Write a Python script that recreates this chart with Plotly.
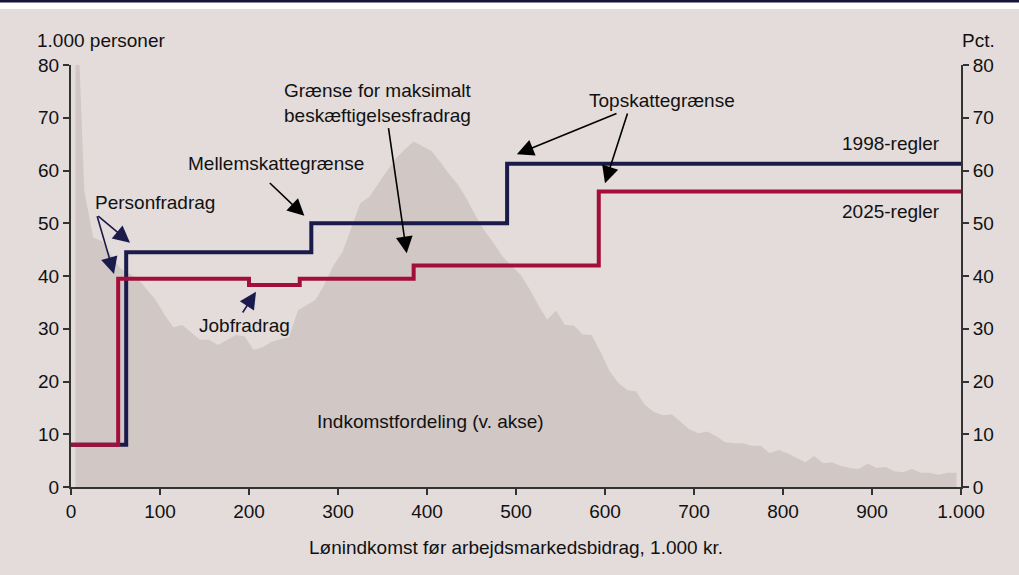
import plotly.graph_objects as go

# Income distribution (thousand persons) by wage income, 10k-kr. bins
income_bins = [5, 15, 25, 35, 45, 55, 65, 75, 85, 95,
               105, 115, 125, 135, 145, 155, 165, 175, 185, 195,
               205, 215, 225, 235, 245, 255, 265, 275, 285, 295,
               305, 315, 325, 335, 345, 355, 365, 375, 385, 395,
               405, 415, 425, 435, 445, 455, 465, 475, 485, 495,
               505, 515, 525, 535, 545, 555, 565, 575, 585, 595,
               605, 615, 625, 635, 645, 655, 665, 675, 685, 695,
               705, 715, 725, 735, 745, 755, 765, 775, 785, 795,
               805, 815, 825, 835, 845, 855, 865, 875, 885, 895,
               905, 915, 925, 935, 945, 955, 965, 975, 985, 995]
persons = [100, 56.0, 47.3, 46.6, 44.0, 41.5, 40.5, 39.5, 37.5, 35.5,
           32.7, 30.3, 30.7, 29.3, 27.9, 27.9, 26.9, 27.8, 28.8, 28.6,
           26.0, 26.5, 27.5, 28.0, 28.4, 33.5, 34.5, 35.5, 38.5, 42.0,
           44.5, 49.0, 53.8, 55.0, 57.5, 60.0, 62.3, 64.0, 65.5, 64.6,
           63.7, 61.6, 59.3, 57.3, 54.5, 51.3, 48.5, 46.2, 43.7, 41.9,
           40.3, 37.6, 34.5, 31.7, 33.4, 30.7, 30.6, 28.9, 28.8, 25.6,
           22.0, 19.7, 18.4, 18.1, 15.5, 14.2, 13.6, 13.8, 12.3, 10.9,
           10.2, 10.5, 9.6, 8.5, 8.3, 8.3, 7.8, 7.8, 6.4, 7.0,
           6.4, 5.5, 4.7, 5.9, 4.5, 4.7, 4.0, 3.6, 3.4, 4.4,
           3.6, 3.8, 3.0, 2.8, 3.4, 2.7, 2.7, 2.3, 2.7, 2.7]

# Marginal tax rates (pct.) as step functions of wage income
rules_1998_x = [0, 62, 270, 490, 1000]
rules_1998_y = [8, 44.5, 50, 61.3, 61.3]
rules_2025_x = [0, 53, 200, 257, 385, 593, 1000]
rules_2025_y = [8, 39.5, 38.3, 39.5, 42, 56, 56]

x_ticks = [0, 100, 200, 300, 400, 500, 600, 700, 800, 900, 1000]
x_tick_labels = ["0", "100", "200", "300", "400", "500", "600", "700", "800", "900", "1.000"]
y_ticks = [0, 10, 20, 30, 40, 50, 60, 70, 80]

BG = "#e3dcdb"
AREA = "#d1c7c5"
NAVY = "#1b1b4b"
RED = "#a30f3a"
INK = "#111111"
AXIS = "#333333"
FONT = "Liberation Sans, Arial, sans-serif"
FS = 19

fig = go.Figure()

fig.add_trace(go.Scatter(
    x=income_bins, y=persons, mode="lines", fill="tozeroy",
    fillcolor=AREA, line=dict(width=0, color=AREA),
    hoverinfo="skip", showlegend=False, yaxis="y"))

fig.add_trace(go.Scatter(
    x=rules_1998_x, y=rules_1998_y, mode="lines", line_shape="hv",
    line=dict(color=NAVY, width=4), showlegend=False, yaxis="y2"))

fig.add_trace(go.Scatter(
    x=rules_2025_x, y=rules_2025_y, mode="lines", line_shape="hv",
    line=dict(color=RED, width=4), showlegend=False, yaxis="y2"))

axis_common = dict(
    range=[0, 80], tickvals=y_ticks, showgrid=False, zeroline=False,
    showline=True, linecolor=AXIS, linewidth=2,
    ticks="outside", ticklen=6, tickwidth=1.5, tickcolor=AXIS,
    tickfont=dict(family=FONT, size=FS, color=INK), fixedrange=True)

fig.update_layout(
    width=1019, height=575,
    margin=dict(l=71, r=58, t=65, b=88),
    paper_bgcolor=BG, plot_bgcolor=BG,
    font=dict(family=FONT, size=FS, color=INK),
    xaxis=dict(range=[0, 1000], tickvals=x_ticks, ticktext=x_tick_labels,
               showgrid=False, zeroline=False, showline=True,
               linecolor=AXIS, linewidth=2, ticks="outside", ticklen=6,
               tickwidth=1.5, tickcolor=AXIS,
               tickfont=dict(family=FONT, size=FS, color=INK)),
    yaxis=dict(**axis_common, side="left"),
    yaxis2=dict(**axis_common, side="right", overlaying="y"),
)

# Header rule and white strip
fig.add_shape(type="rect", xref="paper", yref="paper",
              x0=-0.1, x1=1.1, y0=1 + 56 / 422, y1=1 + 63 / 422,
              fillcolor="white", line_width=0, layer="above")
fig.add_shape(type="rect", xref="paper", yref="paper",
              x0=-0.1, x1=1.1, y0=1 + 62.5 / 422, y1=1 + 66 / 422,
              fillcolor="#15143a", line_width=0, layer="above")

def label(text, x, y, xanchor="left", **kw):
    fig.add_annotation(text=text, x=x, y=y, xref="x", yref="y2",
                       xanchor=xanchor, yanchor="middle", showarrow=False,
                       font=dict(family=FONT, size=FS, color=INK), **kw)

def arrow(x, y, ax, ay, color):
    fig.add_annotation(text="", x=x, y=y, ax=ax, ay=ay,
                       xref="x", yref="y2", axref="x", ayref="y2",
                       showarrow=True, arrowhead=2, arrowsize=2.1,
                       arrowwidth=1.6, arrowcolor=color, standoff=0)

# Axis unit labels
fig.add_annotation(text="1.000 personer", xref="paper", yref="paper",
                   x=(35 - 71) / 890, y=1 + 25 / 422, xanchor="left",
                   yanchor="middle", showarrow=False)
fig.add_annotation(text="Pct.", xref="paper", yref="paper",
                   x=(997 - 71) / 890, y=1 + 25 / 422, xanchor="right",
                   yanchor="middle", showarrow=False)
fig.add_annotation(text="Lønindkomst før arbejdsmarkedsbidrag, 1.000 kr.",
                   xref="paper", yref="paper", x=0.5, y=-60 / 422,
                   xanchor="center", yanchor="middle", showarrow=False)

label("Indkomstfordeling (v. akse)", 403.4, 12.5, xanchor="center")
label("1998-regler", 978.7, 65.2, xanchor="right")
label("2025-regler", 978.7, 52.3, xanchor="right")
label("Topskattegrænse", 664, 73.2, xanchor="center")
label("Grænse for maksimalt<br>beskæftigelsesfradrag", 237, 72.8, align="left")
label("Mellemskattegrænse", 129.2, 61.4)
label("Personfradrag", 24.7, 54.0)
label("Jobfradrag", 141.6, 30.7)

arrow(501, 63.1, 614.6, 70.9, "black")
arrow(600, 57.6, 625.8, 71.1, "black")
arrow(377.2, 44.3, 356.5, 68.3, "black")
arrow(262.2, 51.4, 221.7, 57.9, "black")
arrow(66.3, 46.3, 28.9, 51.6, NAVY)
arrow(48.3, 40.4, 28.9, 51.6, NAVY)
arrow(207.9, 37.0, 191.8, 32.8, NAVY)

fig.write_html("out.html")
